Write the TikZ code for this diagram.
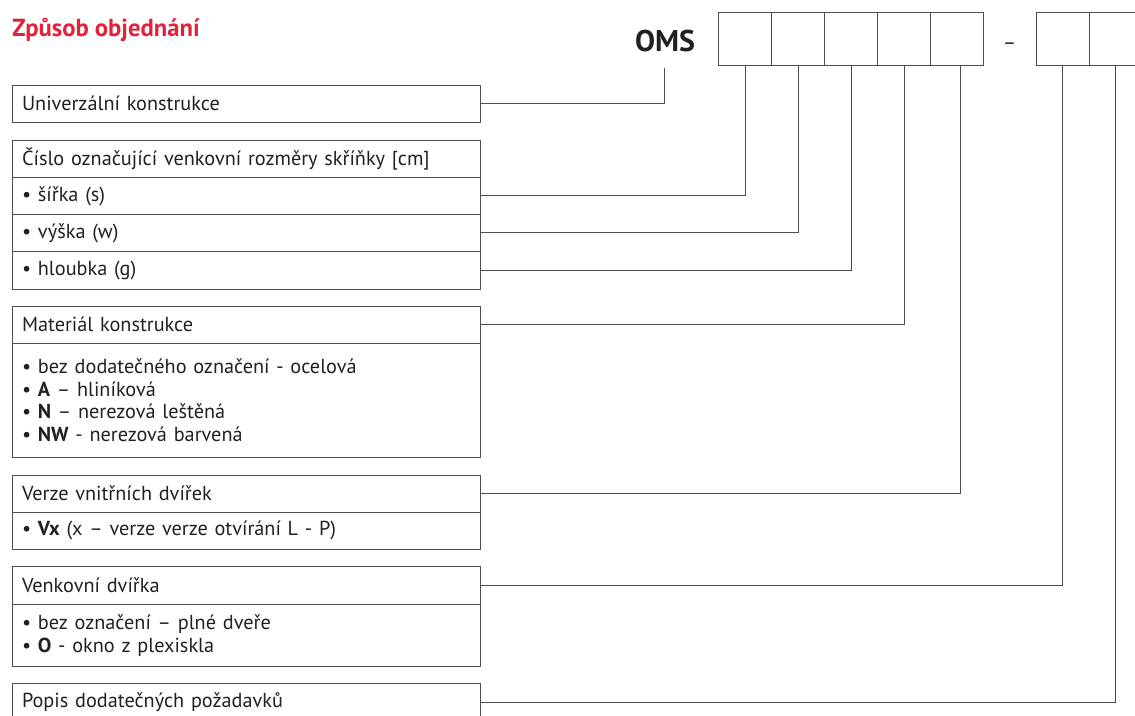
\documentclass[tikz,border=0pt]{standalone}
\usepackage{fontspec}
\setmainfont{PT Sans}
\definecolor{OMSRed}{HTML}{E2213A}
\definecolor{OMSInk}{HTML}{231F20}
\definecolor{OMSLine}{HTML}{4D4D4D}
\tikzset{
  row/.style={draw=OMSLine,line width=0.75pt,anchor=north west,inner xsep=7.5pt,inner ysep=0pt,
    text width=336pt,align=left,minimum height=28pt,text=OMSInk,outer sep=0pt,
    font=\fontsize{15.2}{16.9}\selectfont},
  codebox/.style={draw=OMSLine,line width=0.75pt,minimum size=39.75pt,inner sep=0pt,outer sep=0pt},
  link/.style={draw=OMSLine,line width=0.75pt},
}

\begin{document}
\begin{tikzpicture}[x=0.75pt,y=-0.75pt,line join=miter]
  \useasboundingbox (0,0) rectangle (1135,715);
  \clip (0,0) rectangle (1135,715);
  % heading and order code
  \node[anchor=base west,inner sep=0pt,text=OMSRed,font=\bfseries\fontsize{18.5}{22}\selectfont] (title) at (12,36) {Způsob objednání};
  \node[anchor=base,inner sep=0pt,text=OMSInk,font=\bfseries\fontsize{22.5}{26}\selectfont] (oms) at (665,51) {OMS};
  \foreach \i in {1,...,5}
    \node[codebox] (c\i) at ({745+53*(\i-1)},38.7) {};
  \node[text=OMSInk,font=\fontsize{15.2}{16.9}\selectfont] (dash) at (1009.5,46.5) {–};
  \node[codebox] (c6) at (1062.5,38.7) {};
  \node[codebox] (c7) at (1115.5,38.7) {};
  \coordinate (omsfoot) at (664.3,68.3);
  % description rows
  \node[row] (u1) at (12,85) {Univerzální konstrukce};
  \node[row] (n1) at (12,140) {Číslo označující venkovní rozměry skříňky [cm]};
  \node[row] (n2) at (12,177.3) {• šířka (s)};
  \node[row] (n3) at (12,214.3) {• výška (w)};
  \node[row] (n4) at (12,251.7) {• hloubka (g)};
  \node[row] (m1) at (12,306) {Materiál konstrukce};
  \node[row,minimum height=85.5pt] (m2) at (12,343.3) {• bez dodatečného označení - ocelová\\
    • \textbf{A} – hliníková\\
    • \textbf{N} – nerezová leštěná\\
    • \textbf{NW} - nerezová barvená};
  \node[row] (v1) at (12,475) {Verze vnitřních dvířek};
  \node[row] (v2) at (12,512) {• \textbf{Vx} (x – verze verze otvírání L - P)};
  \node[row] (d1) at (12,566.7) {Venkovní dvířka};
  \node[row,minimum height=47pt] (d2) at (12,604) {• bez označení – plné dveře\\
    • \textbf{O} - okno z plexiskla};
  \node[row] (p1) at (12,683.7) {Popis dodatečných požadavků};
  % leaders
  \draw[link] (u1.east) -| (omsfoot);
  \draw[link] (n2.east) -| (c1.south);
  \draw[link] (n3.east) -| (c2.south);
  \draw[link] (n4.east) -| (c3.south);
  \draw[link] (m1.east) -| (c4.south);
  \draw[link] (v1.east) -| ([xshift=2.5pt]c5.south);
  \draw[link] (d1.east) -| (c6.south);
  \draw[link] (p1.east) -| (c7.south);
\end{tikzpicture}
\end{document}
